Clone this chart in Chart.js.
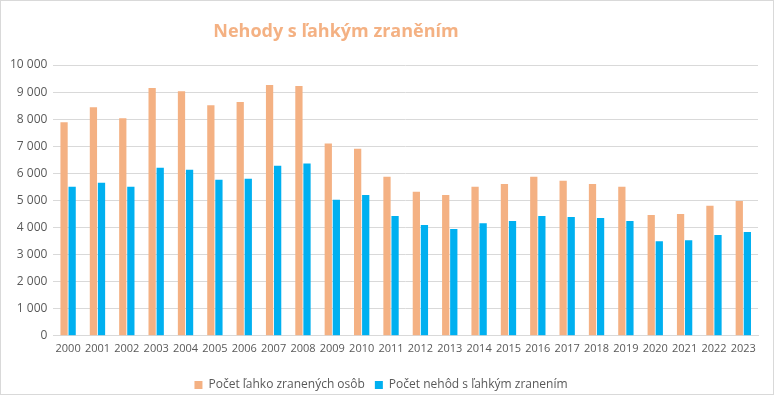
<!DOCTYPE html>
<html>
<head>
<meta charset="utf-8">
<script src="https://cdn.jsdelivr.net/npm/chart.js@4/dist/chart.umd.min.js"></script>
<style>
  body { margin: 0; background: #fff; }
  #wrap { width: 774px; height: 395px; box-sizing: border-box; border: 1px solid #d9d9d9; position: relative; overflow: hidden; }
</style>
</head>
<body>
<div id="wrap"><canvas id="chart"></canvas></div>
<script>
'use strict'

var titleText = 'Nehody s ľahkým zraněním';
var years = ['2000', '2001', '2002', '2003', '2004', '2005', '2006', '2007', '2008', '2009', '2010', '2011',
  '2012', '2013', '2014', '2015', '2016', '2017', '2018', '2019', '2020', '2021', '2022', '2023'];
var injuredPeople = [7890, 8440, 8030, 9150, 9030, 8510, 8630, 9260, 9220, 7100, 6910, 5870,
  5320, 5200, 5500, 5610, 5870, 5730, 5610, 5500, 4460, 4500, 4800, 4980];
var accidents = [5500, 5650, 5500, 6210, 6130, 5760, 5800, 6280, 6360, 5020, 5200, 4420,
  4090, 3940, 4160, 4240, 4420, 4390, 4350, 4240, 3490, 3530, 3720, 3830];
var seriesNames = ['Počet ľahko zranených osôb', 'Počet nehôd s ľahkým zranením'];

var textColor = '#595959';
var fontName = '"Open Sans", "Noto Sans", sans-serif';

// title sits a bit left of centre in the original, so draw it ourselves
var titlePlugin = {
  id: 'sideTitle',
  afterDraw: function(chart) {
    var ctx = chart.ctx;
    ctx.save();
    ctx.font = 'bold 18px ' + fontName;
    ctx.fillStyle = '#F4B183';
    ctx.textAlign = 'center';
    ctx.textBaseline = 'middle';
    ctx.fillText(titleText, 335, 31);
    ctx.restore();
  }
};

function spaced(v) {
  return String(v).replace(/\B(?=(\d{3})+(?!\d))/g, ' ');
}

var ctx = document.getElementById('chart').getContext('2d');

var chart = new Chart(ctx, {
  type: 'bar',
  data: {
    labels: years,
    datasets: [{
      label: seriesNames[0],
      data: injuredPeople,
      backgroundColor: '#F4B183'
    }, {
      label: seriesNames[1],
      data: accidents,
      backgroundColor: '#00B0F0'
    }]
  },
  options: {
    responsive: true,
    maintainAspectRatio: false,
    animation: false,
    datasets: {
      bar: { categoryPercentage: 0.55, barPercentage: 0.9 }
    },
    layout: {
      padding: { left: 3, right: 15, top: 64, bottom: -7 }
    },
    plugins: {
      title: { display: false },
      tooltip: { enabled: false },
      legend: {
        position: 'bottom',
        labels: {
          boxWidth: 8,
          boxHeight: 8,
          color: textColor,
          font: { family: fontName, size: 12 },
          padding: 10
        }
      }
    },
    scales: {
      x: {
        grid: { display: false },
        border: { color: '#d9d9d9' },
        ticks: { color: textColor, font: { family: fontName, size: 11 }, maxRotation: 0, autoSkip: false, padding: -2 },
        afterFit: function(scale) { scale.height += 16; }
      },
      y: {
        min: 0,
        max: 10000,
        grid: { color: '#d9d9d9', drawTicks: false },
        border: { display: false },
        ticks: {
          stepSize: 1000,
          color: textColor,
          padding: 6,
          font: { family: fontName, size: 12 },
          callback: function(v) { return spaced(v); }
        }
      }
    }
  },
  plugins: [titlePlugin]
});
</script>
</body>
</html>
